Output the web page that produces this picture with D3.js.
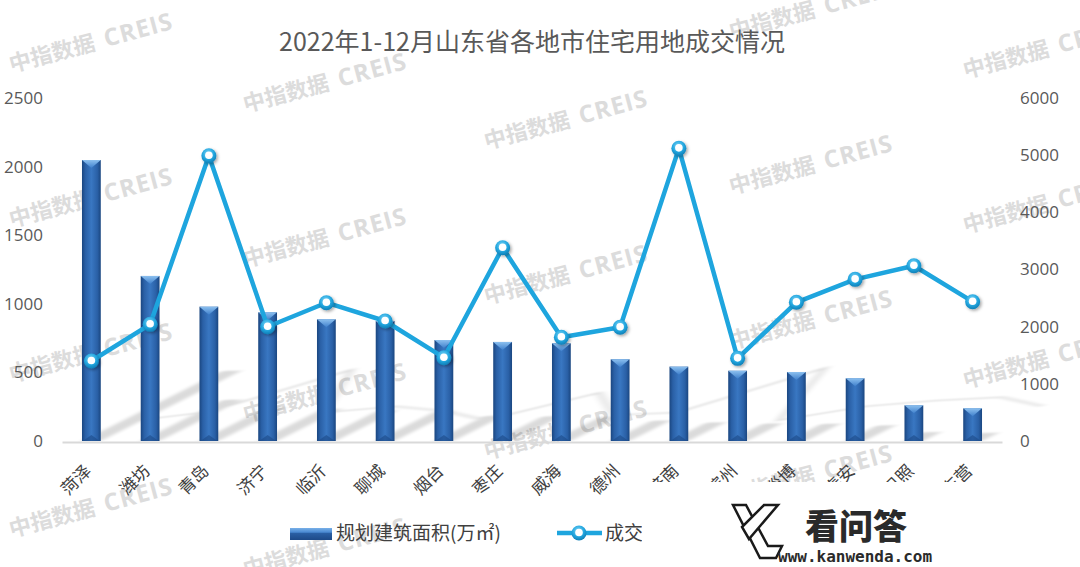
<!DOCTYPE html>
<html>
<head>
<meta charset="utf-8">
<script src="https://cdn.jsdelivr.net/npm/d3@7"></script>
<style>
  html, body { margin: 0; padding: 0; background: #fff; }
  svg { display: block; }
</style>
</head>
<body>
<svg id="chart" width="1080" height="567"></svg>
<script>
const categories = ["菏泽","潍坊","青岛","济宁","临沂","聊城","烟台","枣庄","威海","德州","济南","滨州","淄博","泰安","日照","东营"];
const areaValues = [2048,1203,979,938,887,875,736,722,712,596,542,512,503,457,260,238];
const dealValues = [1399,2041,4990,1999,2419,2099,1457,3381,1814,1989,5119,1446,2426,2828,3066,2437];
const leftTicks = [0,500,1000,1500,2000,2500];
const rightTicks = [0,1000,2000,3000,4000,5000,6000];
const titleText = "2022年1-12月山东省各地市住宅用地成交情况";
const legendLabels = ["规划建筑面积(万㎡)","成交"];
const watermarkParts = ["中指数据","CREIS"];

const svg = d3.select("#chart");
const baseY = 441, topY = 98, x0 = 62, x1 = 1002;

const defs = svg.append("defs");
const barGrad = defs.append("linearGradient").attr("id","barGrad").attr("x1","0").attr("x2","1").attr("y1","0").attr("y2","0");
[["0%","#1a4680"],["18%","#2a60a6"],["50%","#3977c2"],["82%","#2a60a6"],["100%","#1a4680"]].forEach(s=>barGrad.append("stop").attr("offset",s[0]).attr("stop-color",s[1]));
const capGrad = defs.append("linearGradient").attr("id","capGrad").attr("x1","0").attr("x2","0").attr("y1","0").attr("y2","1");
[["0%","#8cc0ef"],["100%","#3f80cc"]].forEach(s=>capGrad.append("stop").attr("offset",s[0]).attr("stop-color",s[1]));
const legGrad = defs.append("linearGradient").attr("id","legGrad").attr("x1","0").attr("x2","0").attr("y1","0").attr("y2","1");
[["0%","#78b0e8"],["35%","#4a8ad2"],["45%","#2a5fa3"],["100%","#1d4a88"]].forEach(s=>legGrad.append("stop").attr("offset",s[0]).attr("stop-color",s[1]));
const mkGrad = defs.append("radialGradient").attr("id","mkGrad").attr("cx","0.45").attr("cy","0.35").attr("r","0.65");
[["0%","#7fd6f7"],["60%","#22a6df"],["100%","#0f7fb6"]].forEach(s=>mkGrad.append("stop").attr("offset",s[0]).attr("stop-color",s[1]));
const blur = defs.append("filter").attr("id","blur").attr("x","-20%").attr("y","-20%").attr("width","140%").attr("height","140%");
blur.append("feGaussianBlur").attr("stdDeviation",3.5);
const mkShadow = defs.append("filter").attr("id","mkShadow").attr("x","-50%").attr("y","-50%").attr("width","200%").attr("height","200%");
mkShadow.append("feDropShadow").attr("dx",1.5).attr("dy",1.5).attr("stdDeviation",1.5).attr("flood-color","#000").attr("flood-opacity",0.35);

// watermarks (behind chart)
const wm = svg.append("g");
const wmCols = [{x:91,y:43},{x:325,y:83},{x:566,y:120},{x:811,y:10},{x:1045,y:49}];
wmCols.forEach(c=>{
  for (let k=-1;k<=4;k++){
    const yy = c.y + k*155;
    if (yy < 0 || yy > 560) continue;
    const t = wm.append("text").attr("transform",`translate(${c.x},${yy}) rotate(-15)`)
      .attr("text-anchor","middle").attr("dy","0.35em")
      .attr("font-family","'Noto Sans CJK SC', 'Open Sans', sans-serif")
      .attr("font-weight","bold").attr("font-size",22)
      .attr("fill","#dcdcdc");
    t.append("tspan").text(watermarkParts[0]);
    t.append("tspan").attr("dx",10).attr("letter-spacing",1).attr("font-size",24)
      .attr("font-family","'Open Sans', sans-serif").text(watermarkParts[1]);
  }
});

const x = d3.scaleBand().domain(categories).range([x0,x1]).paddingInner(0.68).paddingOuter(0.34);
const yL = d3.scaleLinear().domain([0,2500]).range([baseY,topY]);
const yR = d3.scaleLinear().domain([0,6000]).range([baseY,topY]);
const cx = d => x(d) + x.bandwidth()/2;

// title
svg.append("text").attr("x",532).attr("y",51).attr("text-anchor","middle")
  .attr("font-family","'Noto Sans CJK SC', sans-serif").attr("font-size",25)
  .attr("fill","#595959").text(titleText);

// perspective shadow
const lineGen = d3.line().x((d,i)=>cx(categories[i])).y(d=>yR(d));
const sh = svg.append("g").attr("transform",`matrix(1,0,-0.5,0.25,${0.5*baseY},${0.75*baseY})`)
  .attr("filter","url(#blur)").attr("opacity",0.14);
sh.selectAll("rect").data(areaValues).enter().append("rect")
  .attr("x",(d,i)=>x(categories[i])).attr("width",x.bandwidth())
  .attr("y",d=>yL(d)).attr("height",d=>baseY-yL(d)).attr("fill","#000");
sh.append("path").attr("d",lineGen(dealValues)).attr("fill","none").attr("stroke","#000").attr("stroke-width",5);

// axes
const fmt = d3.format("d");
const axL = svg.append("g").attr("transform",`translate(${x0},0)`)
  .call(d3.axisLeft(yL).tickValues(leftTicks).tickFormat(fmt).tickSize(0).tickPadding(19));
const axR = svg.append("g").attr("transform",`translate(${x1},0)`)
  .call(d3.axisRight(yR).tickValues(rightTicks).tickFormat(fmt).tickSize(0).tickPadding(18));
[axL,axR].forEach(a=>{
  a.select(".domain").remove();
  a.selectAll("text").attr("font-family","'Open Sans', sans-serif").attr("font-size",17).attr("fill","#595959");
});
const axB = svg.append("g").attr("transform",`translate(0,${baseY+1})`)
  .call(d3.axisBottom(x).tickSize(0).tickFormat(""));
axB.select(".domain").attr("stroke","#d9d9d9").attr("stroke-width",2);

// category labels
svg.append("g").selectAll("text").data(categories).enter().append("text")
  .attr("transform",d=>`translate(${cx(d)+1},${472}) rotate(-45)`)
  .attr("text-anchor","end")
  .attr("font-family","'Noto Sans CJK SC', sans-serif").attr("font-size",17)
  .attr("fill","#404040").text(d=>d);

// bars
const bars = svg.append("g");
areaValues.forEach((v,i)=>{
  const bx = x(categories[i]), bw = x.bandwidth(), by = yL(v);
  bars.append("rect").attr("x",bx).attr("y",by).attr("width",bw).attr("height",baseY-by).attr("fill","url(#barGrad)");
  bars.append("path").attr("d",`M${bx},${by}L${bx+bw},${by}L${bx+bw/2},${by+8}Z`).attr("fill","url(#capGrad)");
  bars.append("path").attr("d",`M${bx+1},${baseY}L${bx+bw-1},${baseY}L${bx+bw/2},${baseY-6}Z`).attr("fill","#1c4a87").attr("opacity",0.6);
});

// line
svg.append("path").attr("d",lineGen(dealValues)).attr("fill","none")
  .attr("stroke","#1ea5de").attr("stroke-width",4.5).attr("stroke-linejoin","round");
const mk = svg.append("g");
dealValues.forEach((v,i)=>{
  const px = cx(categories[i]), py = yR(v);
  mk.append("circle").attr("cx",px).attr("cy",py).attr("r",7.5).attr("fill","url(#mkGrad)").attr("filter","url(#mkShadow)");
  mk.append("circle").attr("cx",px).attr("cy",py-0.5).attr("r",3.8).attr("fill","#fff");
});

// legend
const lg = svg.append("g");
lg.append("rect").attr("x",290).attr("y",528).attr("width",42).attr("height",12).attr("fill","url(#legGrad)");
lg.append("text").attr("x",336).attr("y",540).attr("font-family","'Noto Sans CJK SC', sans-serif")
  .attr("font-size",19).attr("fill","#404040").text(legendLabels[0]);
lg.append("line").attr("x1",557).attr("x2",602).attr("y1",533).attr("y2",533).attr("stroke","#1ea5de").attr("stroke-width",4.5);
lg.append("circle").attr("cx",579).attr("cy",533).attr("r",7.5).attr("fill","url(#mkGrad)");
lg.append("circle").attr("cx",579).attr("cy",532.5).attr("r",3.8).attr("fill","#fff");
lg.append("text").attr("x",605).attr("y",540).attr("font-family","'Noto Sans CJK SC', sans-serif")
  .attr("font-size",19).attr("fill","#404040").text(legendLabels[1]);

// site logo overlay
const logo = svg.append("g");
logo.append("rect").attr("x",642).attr("y",482).attr("width",438).attr("height",85).attr("fill","#fff");
logo.append("path")
  .attr("d","M733,505 L746,505 L768,546 L782,546 L776,558 L760,558 Z")
  .attr("fill","#fff").attr("stroke","#1a1a1a").attr("stroke-width",2.5).attr("stroke-linejoin","miter");
logo.append("path")
  .attr("d","M764,505 L778,505 L749,539 L742,527 Z")
  .attr("fill","#fff").attr("stroke","#1a1a1a").attr("stroke-width",2.5).attr("stroke-linejoin","miter");
logo.append("text").attr("x",805).attr("y",539).attr("font-family","'Noto Sans CJK SC', sans-serif")
  .attr("font-weight","900").attr("font-size",34).attr("fill","#2a2a2a").text("看问答");
logo.append("text").attr("x",778).attr("y",562).attr("font-family","'DejaVu Sans Mono', monospace")
  .attr("font-weight","bold").attr("font-size",16).attr("fill","#2a2a2a").text("www.kanwenda.com");
</script>
</body>
</html>
